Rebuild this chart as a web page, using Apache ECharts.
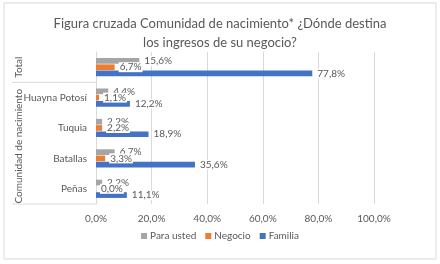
<!DOCTYPE html>
<html>
<head>
<meta charset="utf-8">
<script src="https://cdn.jsdelivr.net/npm/echarts@6/dist/echarts.min.js"></script>
<style>
  html, body { margin: 0; padding: 0; background: #fff; }
  #chart { width: 440px; height: 264px; }
</style>
</head>
<body>
<div id="chart"></div>
<script>
// categories from bottom to top (Excel order)
const categories = ['Peñas', 'Batallas', 'Tuquia', 'Huayna Potosí', 'Total'];
const seriesNames = ['Para usted', 'Negocio', 'Familia'];
const paraUsted = [2.2, 6.7, 2.2, 4.4, 15.6];
const negocio = [0.0, 3.3, 2.2, 1.1, 6.7];
const familia = [11.1, 35.6, 18.9, 12.2, 77.8];
const xTicks = [0, 20, 40, 60, 80, 100];

const textColor = '#595959';
const font = 'Lato';
const fmt = v => v.toFixed(1).replace('.', ',') + '%';

const chart = echarts.init(document.getElementById('chart'));

function barSeries(name, data, color) {
  return {
    name,
    type: 'bar',
    data,
    itemStyle: { color },
    barGap: '10%',
    barCategoryGap: '40%',
    label: {
      show: true,
      position: 'right',
      distance: 4,
      color: textColor,
      fontSize: 10,
      fontFamily: font,
      backgroundColor: '#fff',
      padding: [0, 1],
      formatter: p => fmt(p.value),
    },
  };
}

chart.setOption({
  backgroundColor: '#fff',
  animation: false,
  title: {
    text: 'Figura cruzada Comunidad de nacimiento* ¿Dónde destina\nlos ingresos de su negocio?',
    left: 'center',
    top: 9,
    textStyle: { color: textColor, fontSize: 13, fontWeight: 'normal', fontFamily: font, lineHeight: 19 },
  },
  legend: {
    data: seriesNames,
    bottom: 18,
    left: 'center',
    icon: 'rect',
    itemWidth: 6,
    itemHeight: 6,
    itemGap: 9,
    textStyle: { color: textColor, fontSize: 10, fontFamily: font, padding: [0, 0, 0, -2] },
  },
  grid: { left: 96, right: 66, top: 52, bottom: 60, containLabel: false },
  xAxis: {
    type: 'value',
    min: xTicks[0],
    max: xTicks[xTicks.length - 1],
    interval: 20,
    axisLine: { show: false },
    axisTick: { show: false },
    axisLabel: { color: textColor, fontSize: 10, fontFamily: font, margin: 10, formatter: v => fmt(v) },
    splitLine: { lineStyle: { color: '#d9d9d9' } },
  },
  yAxis: {
    type: 'category',
    data: categories,
    axisLine: { show: true, lineStyle: { color: '#d9d9d9' } },
    axisTick: { show: false },
    axisLabel: {
      color: textColor, fontSize: 10, fontFamily: font, margin: 9,
      formatter: v => (v === 'Total' ? '' : v),
    },
  },
  series: [
    barSeries('Para usted', paraUsted, '#a5a5a5'),
    barSeries('Negocio', negocio, '#ed7d31'),
    barSeries('Familia', familia, '#4472c4'),
  ],
});

// multi-level axis: group labels and separator lines
const xLeft = 12;
const x0 = chart.convertToPixel({ xAxisIndex: 0 }, 0);
const band = (chart.convertToPixel({ yAxisIndex: 0 }, categories[0]) - chart.convertToPixel({ yAxisIndex: 0 }, categories[1]));
const yTotal = chart.convertToPixel({ yAxisIndex: 0 }, 'Total');
const yPenas = chart.convertToPixel({ yAxisIndex: 0 }, 'Peñas');
const ySep = yTotal + band / 2;
const yBottom = yPenas + band / 2;
const yTop = yTotal - band / 2;
const groupCenter = (ySep + yBottom) / 2 + 3;
const line = y => ({ type: 'line', shape: { x1: xLeft, y1: y, x2: x0, y2: y }, style: { stroke: '#d9d9d9', lineWidth: 1 } });

chart.setOption({
  graphic: [
    { type: 'rect', shape: { x: 4, y: 3, width: 432, height: 256 }, style: { fill: 'none', stroke: '#d9d9d9', lineWidth: 1 }, silent: true },
    line(ySep),
    line(yBottom),
    {
      type: 'text', x: 19, y: (yTop + ySep) / 2, rotation: Math.PI / 2,
      style: { text: 'Total', fill: textColor, fontSize: 10, fontFamily: font, align: 'center', verticalAlign: 'middle' },
    },
    {
      type: 'text', x: 19, y: groupCenter, rotation: Math.PI / 2,
      style: { text: 'Comunidad de nacimiento', fill: textColor, fontSize: 10, fontFamily: font, align: 'center', verticalAlign: 'middle' },
    },
  ],
});
</script>
</body>
</html>
